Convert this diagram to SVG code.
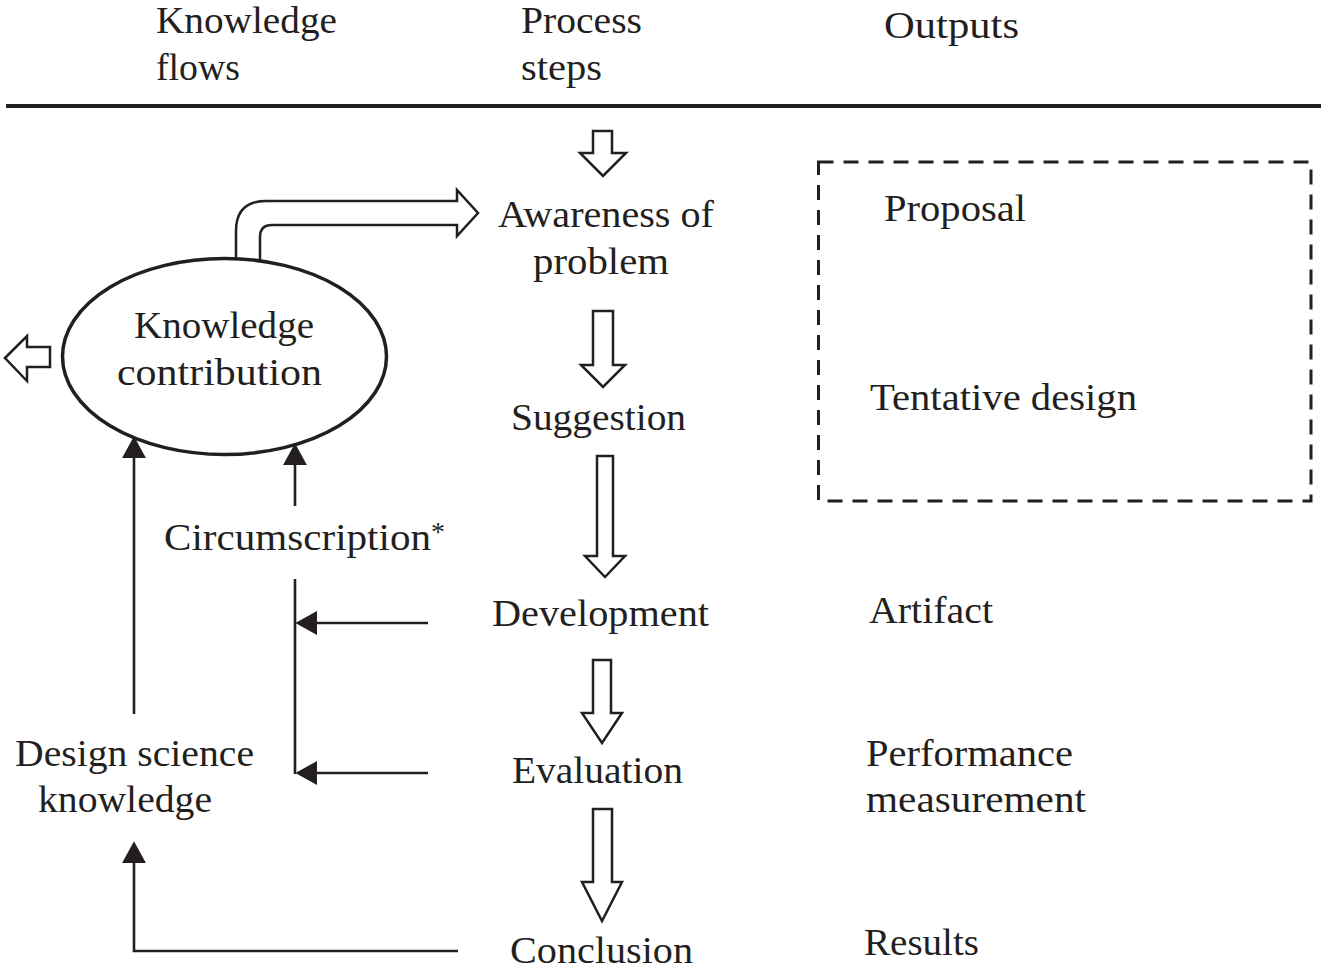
<svg xmlns="http://www.w3.org/2000/svg" width="1326" height="974" viewBox="0 0 1326 974">
<style>
text{font-family:"Liberation Serif","Times New Roman",serif;font-size:38px;fill:#231f20}
.blk{fill:#fff;stroke:#231f20;stroke-width:2.5;stroke-linejoin:miter}
.ln{fill:none;stroke:#231f20;stroke-width:2.6}
</style>
<defs>
<marker id="ah" markerUnits="userSpaceOnUse" markerWidth="24" markerHeight="26" viewBox="0 -12 22 24" refX="0" refY="0" orient="auto">
<path d="M0,-11 L20,0 L0,11 Z" fill="#231f20"/>
</marker>
</defs>
<rect width="1326" height="974" fill="#fff"/>

<g id="header">
<text x="156" y="33" textLength="181" lengthAdjust="spacingAndGlyphs">Knowledge</text>
<text x="156" y="80" textLength="84" lengthAdjust="spacingAndGlyphs">flows</text>
<text x="521" y="33" textLength="121" lengthAdjust="spacingAndGlyphs">Process</text>
<text x="521" y="80" textLength="81" lengthAdjust="spacingAndGlyphs">steps</text>
<text x="884" y="38" textLength="135" lengthAdjust="spacingAndGlyphs">Outputs</text>
<path d="M6,106 H1321" stroke="#231f20" stroke-width="4"/>
</g>

<g id="process-arrows">
<polygon class="blk" points="593,131 612,131 612,153 626,153 603,176 580,153 593,153"/>
<polygon class="blk" points="593,311 613,311 613,365 625,365 603,387 581,365 593,365"/>
<polygon class="blk" points="597,456 613,456 613,556 625,556 605,577 585,556 597,556"/>
<polygon class="blk" points="593,660 611,660 611,713 622,713 602,743 582,713 593,713"/>
<polygon class="blk" points="593,809 612,809 612,882 622,882 602,921 582,882 593,882"/>
</g>

<g id="awareness"><text x="498" y="227" textLength="216" lengthAdjust="spacingAndGlyphs">Awareness of</text>
<text x="533" y="274" textLength="136" lengthAdjust="spacingAndGlyphs">problem</text></g>
<g id="suggestion"><text x="511" y="430" textLength="175" lengthAdjust="spacingAndGlyphs">Suggestion</text></g>
<g id="development"><text x="492" y="626" textLength="217" lengthAdjust="spacingAndGlyphs">Development</text></g>
<g id="evaluation"><text x="512" y="783" textLength="171" lengthAdjust="spacingAndGlyphs">Evaluation</text></g>
<g id="conclusion"><text x="510" y="963" textLength="183" lengthAdjust="spacingAndGlyphs">Conclusion</text></g>

<g id="outputs-box">
<rect x="818.5" y="162" width="492.5" height="339" fill="none" stroke="#231f20" stroke-width="3" stroke-dasharray="15 10"/>
<text x="884" y="221" textLength="142" lengthAdjust="spacingAndGlyphs">Proposal</text>
<text x="870" y="410" textLength="267" lengthAdjust="spacingAndGlyphs">Tentative design</text>
</g>
<g id="artifact"><text x="869" y="623" textLength="124" lengthAdjust="spacingAndGlyphs">Artifact</text></g>
<g id="performance"><text x="866" y="766" textLength="207" lengthAdjust="spacingAndGlyphs">Performance</text>
<text x="866" y="812" textLength="220" lengthAdjust="spacingAndGlyphs">measurement</text></g>
<g id="results"><text x="864" y="955" textLength="115" lengthAdjust="spacingAndGlyphs">Results</text></g>

<g id="knowledge-contribution">
<path class="blk" d="M236,259 L236,231 Q236,201 266,201 L457,201 L457,190 L478,213 L457,236 L457,225 L272,225 Q260,225 260,237 L260,261"/>
<polygon class="blk" points="5,358 27,336 27,347 50,347 50,367 27,367 27,381"/>
<ellipse cx="224.5" cy="356.5" rx="162" ry="98" fill="#fff" stroke="#231f20" stroke-width="3.5"/>
<text x="134" y="338" textLength="180" lengthAdjust="spacingAndGlyphs">Knowledge</text>
<text x="117" y="385" textLength="205" lengthAdjust="spacingAndGlyphs">contribution</text>
</g>

<g id="circumscription"><text x="164" y="550" textLength="267" lengthAdjust="spacingAndGlyphs">Circumscription</text><text x="431" y="541" style="font-size:28px">*</text></g>

<g id="design-science-knowledge"><text x="15" y="766" textLength="239" lengthAdjust="spacingAndGlyphs">Design science</text>
<text x="38" y="812" textLength="174" lengthAdjust="spacingAndGlyphs">knowledge</text></g>

<g id="connectors">
<path class="ln" d="M134,714 V458" marker-end="url(#ah)"/>
<path class="ln" d="M295,506 V465" marker-end="url(#ah)"/>
<path class="ln" d="M295,579 V774"/>
<path class="ln" d="M428,623 H317" marker-end="url(#ah)"/>
<path class="ln" d="M428,773 H317" marker-end="url(#ah)"/>
<path class="ln" d="M458,951 H134 V863" marker-end="url(#ah)"/>
</g>
</svg>
